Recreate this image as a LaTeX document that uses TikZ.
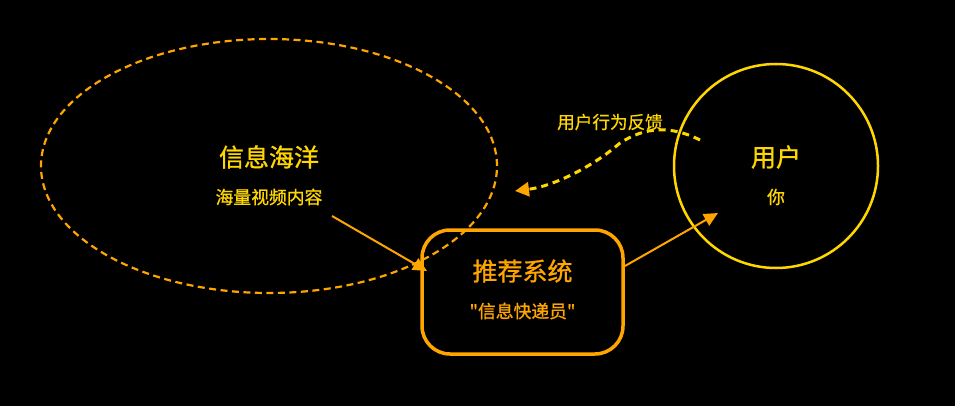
\documentclass[tikz,border=0pt]{standalone}
\usepackage{fontspec}
\newfontfamily\cjk[FakeBold=1]{Noto Sans CJK SC}
\newfontfamily\cjkl[FakeBold=0.6]{Noto Sans CJK SC}
\usetikzlibrary{arrows.meta,shapes.geometric}
\definecolor{myorange}{HTML}{FFA500}
\definecolor{myyellow}{HTML}{FFD700}
\tikzset{
  title/.style={font=\cjk\fontsize{25}{28}\selectfont, inner sep=0pt},
  sub/.style={font=\cjk\fontsize{17.8}{20}\selectfont, inner sep=0pt},
  lab/.style={font=\cjkl\fontsize{17.6}{20}\selectfont, inner sep=0pt},
  arr/.style={draw=myorange, line width=2pt, -{Triangle[length=14pt,width=13pt]}},
}
\begin{document}
\begin{tikzpicture}[x=1pt,y=-1pt]
\fill[black] (0,0) rectangle (955,406);
\useasboundingbox (0,0) rectangle (955,406);
% ocean ellipse
\node[ellipse, draw=myorange, line width=2.2pt, dash pattern=on 7pt off 4.5pt,
      minimum width=456pt, minimum height=254pt, inner sep=0pt] (ocean) at (269,166) {};
\node[title, text=myyellow] (oceanT) at (269,157) {信息海洋};
\node[sub, text=myyellow] (oceanS) at (269,197) {海量视频内容};
% user circle
\node[circle, draw=myyellow, line width=2.5pt, minimum size=204pt, inner sep=0pt] (user) at (776,166) {};
\node[title, text=myyellow] (userT) at (776,157) {用户};
\node[sub, text=myyellow] (userS) at (776,197) {你};
% recommender box
\node[draw=myorange, line width=3.5pt, rounded corners=28pt, minimum width=201pt,
      minimum height=124pt, inner sep=0pt] (rec) at (522.5,292) {};
\node[title, text=myorange] (recT) at (522.5,271) {推荐系统};
\node[sub, text=myorange] (recS) at (522.5,311) {"信息快递员"};
% arrows
\coordinate (a1s) at (332,216);
\coordinate (a1e) at (427,271);
\coordinate (a2s) at (625,266);
\coordinate (a2e) at (718,213);
\draw[arr] (a1s) -- (a1e);
\draw[arr] (a2s) -- (a2e);
% feedback
\coordinate (fbs) at (700,140);
\coordinate (fbm) at (620,143);
\coordinate (fbe) at (515,191);
\draw[draw=myyellow, line width=3pt, dash pattern=on 7pt off 5pt,
      -{Triangle[length=14pt,width=14pt,color=myorange]}]
  (fbs) .. controls (670,125) and (645,127) .. (fbm)
        .. controls (595,165) and (555,186) .. (fbe);
\node[lab, text=myyellow] (fbT) at (610,122) {用户行为反馈};
\end{tikzpicture}
\end{document}
